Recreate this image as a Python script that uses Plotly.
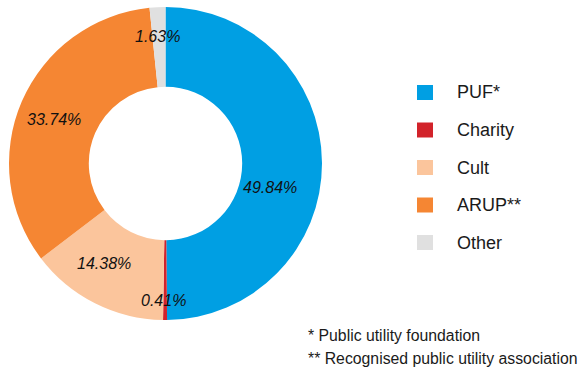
import math
import plotly.graph_objects as go

# Share of organisations by legal form (%)
categories = ["PUF*", "Charity", "Cult", "ARUP**", "Other"]
shares = [49.84, 0.41, 14.38, 33.74, 1.63]
value_labels = ["49.84%", "0.41%", "14.38%", "33.74%", "1.63%"]
footnotes = ["* Public utility foundation", "** Recognised public utility association"]

colors = ["#009fe3", "#d2232a", "#fbc59c", "#f58633", "#e0e0e0"]

W, H = 582, 369
FONT = "Arial, Liberation Sans, sans-serif"

# donut geometry in pixels
cx, cy, R = 165.5, 163.5, 156.5
hole = 0.49

def px(x):
    return x / W

def py(y):
    return 1 - y / H

fig = go.Figure(
    go.Pie(
        labels=categories,
        values=shares,
        sort=False,
        direction="clockwise",
        rotation=0,
        hole=hole,
        textinfo="none",
        hoverinfo="label+percent",
        marker=dict(colors=colors, line=dict(width=0)),
        showlegend=False,
        domain=dict(x=[px(cx - R), px(cx + R)], y=[py(cy + R), py(cy - R)]),
    )
)

# value labels placed in the ring, near each slice's mid-angle
angle_shift = [13.2, 0.5, 4.9, -1.7, -0.5]
radius_frac = [0.688, 0.875, 0.752, 0.768, 0.81]
total = sum(shares)
cum = 0.0
annotations = []
for i, v in enumerate(shares):
    mid = (cum + v / 2) / total * 360.0
    cum += v
    a = math.radians(mid + angle_shift[i])
    r = radius_frac[i] * R
    x = cx + r * math.sin(a)
    y = cy - r * math.cos(a)
    annotations.append(dict(
        x=px(x), y=py(y), xref="paper", yref="paper",
        text=f"<i>{value_labels[i]}</i>", showarrow=False,
        xanchor="center", yanchor="middle",
        font=dict(family=FONT, size=16, color="#111111"),
    ))

# legend: colour squares with labels
shapes = []
leg_y0, leg_step = 92.5, 37.5
for i, name in enumerate(categories):
    yc = leg_y0 + i * leg_step
    shapes.append(dict(
        type="rect", xref="paper", yref="paper",
        x0=px(417), x1=px(433), y0=py(yc + 7.5), y1=py(yc - 7.5),
        fillcolor=colors[i], line=dict(width=0),
    ))
    annotations.append(dict(
        x=px(455), y=py(yc), xref="paper", yref="paper",
        text=name, showarrow=False, xanchor="left", yanchor="middle",
        font=dict(family=FONT, size=18, color="#1a1a1a"),
    ))

# footnotes
for j, t in enumerate(footnotes):
    annotations.append(dict(
        x=px(306), y=py(335 + j * 23), xref="paper", yref="paper",
        text=t, showarrow=False, xanchor="left", yanchor="middle",
        font=dict(family=FONT, size=15.8, color="#1a1a1a"),
    ))

fig.update_layout(
    width=W, height=H,
    margin=dict(l=0, r=0, t=0, b=0),
    paper_bgcolor="white", plot_bgcolor="white",
    shapes=shapes, annotations=annotations,
)

fig.write_html("out.html")
